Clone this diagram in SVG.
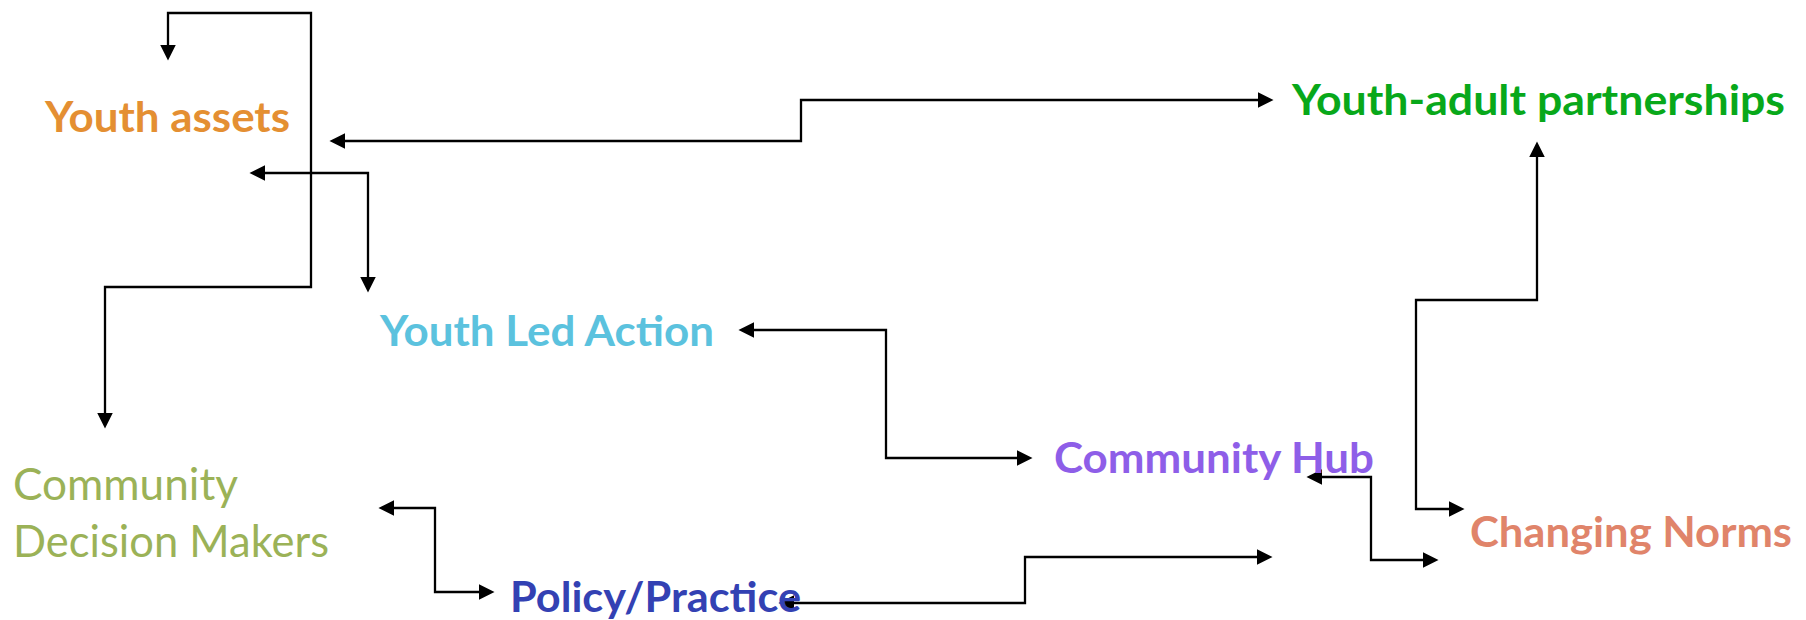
<svg xmlns="http://www.w3.org/2000/svg" width="1806" height="620" viewBox="0 0 1806 620">
<style>
.lbl{font-family:Lato,"Open Sans","Liberation Sans",sans-serif;font-weight:700;font-size:42px}
.reg{font-family:Lato,"Open Sans","Liberation Sans",sans-serif;font-weight:400;font-size:44px;fill:#9BB257}
.con{fill:none;stroke:#000;stroke-width:2.3;marker-start:url(#arrS);marker-end:url(#arrE)}
</style>
<defs>
<marker id="arrE" markerUnits="userSpaceOnUse" markerWidth="16" markerHeight="16" viewBox="0 0 15 15" refX="7" refY="7.5" orient="auto"><path d="M0,0 L15,7.5 L0,15 z" fill="#000"/></marker>
<marker id="arrS" markerUnits="userSpaceOnUse" markerWidth="16" markerHeight="16" viewBox="0 0 15 15" refX="8" refY="7.5" orient="auto"><path d="M15,0 L0,7.5 L15,15 z" fill="#000"/></marker>
</defs>
<rect width="1806" height="620" fill="#fff"/>
<g id="connectors">
<path class="con" d="M168,52 V13 H311 V287 H105 V420"/>
<path class="con" d="M338,141 H801 V100 H1265"/>
<path class="con" d="M258,173 H368 V284"/>
<path class="con" d="M747,330 H886 V458 H1024"/>
<path class="con" d="M387,508 H435 V592 H486"/>
<path class="con" d="M787,603 H1025 V557 H1264"/>
<path class="con" d="M1315,477 H1371 V560 H1430"/>
<path class="con" d="M1456,509 H1416 V300 H1537 V150"/>
</g>
<g id="youth-assets"><text class="lbl" x="45" y="132" fill="#E48F32" textLength="245" lengthAdjust="spacingAndGlyphs">Youth assets</text></g>
<g id="youth-adult-partnerships"><text class="lbl" x="1292" y="115" fill="#08A81A" textLength="493" lengthAdjust="spacingAndGlyphs">Youth-adult partnerships</text></g>
<g id="youth-led-action"><text class="lbl" x="380" y="346" fill="#5BC2DE" textLength="334" lengthAdjust="spacingAndGlyphs">Youth Led Action</text></g>
<g id="community-hub"><text class="lbl" x="1054" y="473" fill="#8E5EE8" textLength="320" lengthAdjust="spacingAndGlyphs">Community Hub</text></g>
<g id="changing-norms"><text class="lbl" x="1470" y="547" fill="#E0846A" textLength="322" lengthAdjust="spacingAndGlyphs">Changing Norms</text></g>
<g id="policy-practice"><text class="lbl" x="510" y="612" fill="#3341B3" textLength="291" lengthAdjust="spacingAndGlyphs">Policy/Practice</text></g>
<g id="community-decision-makers">
<text class="reg" x="13" y="500" textLength="225" lengthAdjust="spacingAndGlyphs">Community</text>
<text class="reg" x="13" y="557" textLength="316" lengthAdjust="spacingAndGlyphs">Decision Makers</text>
</g>
</svg>
